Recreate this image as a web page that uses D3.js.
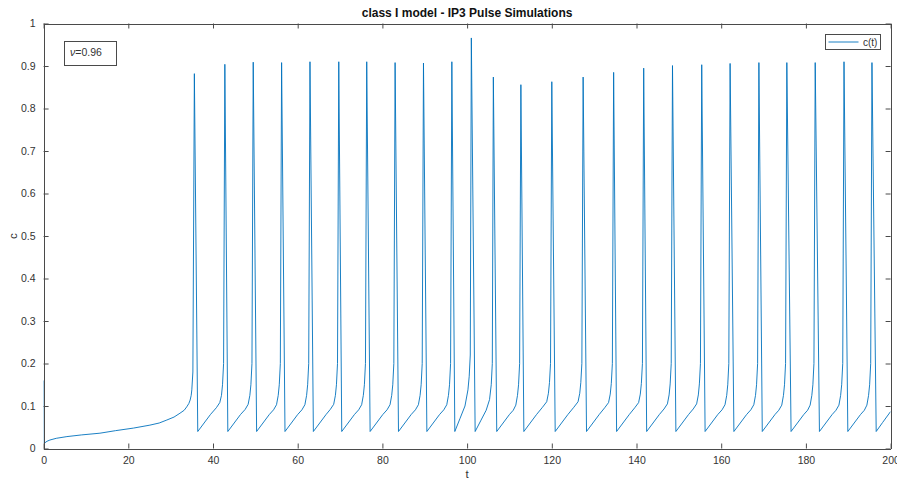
<!DOCTYPE html>
<html>
<head>
<meta charset="utf-8">
<script src="https://cdn.jsdelivr.net/npm/d3@7/dist/d3.min.js"></script>
<style>
  html, body { margin: 0; padding: 0; background: #fff; }
  svg { display: block; font-family: "Liberation Sans", Arial, Helvetica, sans-serif; }
</style>
</head>
<body>
<svg id="chart" width="897" height="482"></svg>
<script>
// Calcium trace c(t) for the class I model under an IP3 pulse.
// Slow onset before the first spike.
const onset = [
  [0, 0.16], [0.1, 0.012], [0.8, 0.017], [1.5, 0.02], [3, 0.024], [5.5, 0.028],
  [9, 0.032], [13.3, 0.036], [17, 0.042], [21.2, 0.048], [25.1, 0.055], [27.3, 0.06],
  [29.1, 0.067], [30.8, 0.074], [32.2, 0.083], [33.2, 0.09], [33.8, 0.098],
  [34.3, 0.106], [34.6, 0.114], [34.85, 0.125], [35.0, 0.138], [35.25, 0.18]
];

// One row per oscillation: peak, trough, then the slow recovery towards the next spike.
const cycles = [
  [[35.6, 0.882], [36.4, 0.04], [37.9, 0.06], [39.4, 0.08], [40.8, 0.096], [41.6, 0.108], [42.0, 0.125], [42.25, 0.15], [42.5, 0.2]],
  [[42.8, 0.904], [43.5, 0.04], [45.0, 0.06], [46.5, 0.08], [47.6, 0.092], [48.3, 0.104], [48.7, 0.125], [48.95, 0.15], [49.2, 0.2]],
  [[49.5, 0.909], [50.3, 0.04], [51.8, 0.06], [53.3, 0.08], [54.3, 0.091], [55.0, 0.103], [55.4, 0.125], [55.65, 0.15], [55.9, 0.2]],
  [[56.2, 0.908], [57.0, 0.04], [58.5, 0.06], [60.0, 0.08], [61.0, 0.091], [61.7, 0.103], [62.1, 0.125], [62.35, 0.15], [62.6, 0.2]],
  [[62.9, 0.910], [63.7, 0.04], [65.2, 0.06], [66.7, 0.08], [67.7, 0.092], [68.5, 0.104], [68.9, 0.125], [69.15, 0.15], [69.4, 0.2]],
  [[69.7, 0.910], [70.4, 0.04], [71.9, 0.06], [73.4, 0.08], [74.4, 0.091], [75.1, 0.103], [75.5, 0.125], [75.75, 0.15], [76.0, 0.2]],
  [[76.3, 0.910], [77.1, 0.04], [78.6, 0.06], [80.1, 0.08], [81.1, 0.091], [81.8, 0.103], [82.2, 0.125], [82.45, 0.15], [82.7, 0.2]],
  [[83.0, 0.908], [83.8, 0.04], [85.3, 0.06], [86.8, 0.08], [87.8, 0.091], [88.5, 0.103], [88.9, 0.125], [89.15, 0.15], [89.4, 0.2]],
  [[89.7, 0.907], [90.5, 0.04], [92.0, 0.06], [93.5, 0.08], [94.5, 0.091], [95.2, 0.103], [95.6, 0.125], [95.85, 0.15], [96.1, 0.2]],
  [[96.4, 0.910], [97.1, 0.04], [98.3, 0.07], [99.5, 0.1], [100.2, 0.138], [100.5, 0.17], [100.75, 0.22]],
  [[101.0, 0.966], [101.9, 0.04], [103.2, 0.065], [104.5, 0.09], [105.3, 0.115], [105.7, 0.15], [105.95, 0.2]],
  [[106.2, 0.874], [107.0, 0.04], [108.5, 0.06], [110.0, 0.08], [110.9, 0.09], [111.5, 0.102], [111.9, 0.125], [112.15, 0.15], [112.4, 0.2]],
  [[112.7, 0.856], [113.4, 0.04], [114.9, 0.06], [116.4, 0.08], [117.8, 0.097], [118.8, 0.11], [119.2, 0.13], [119.45, 0.155], [119.7, 0.2]],
  [[120.0, 0.863], [120.8, 0.04], [122.3, 0.06], [123.8, 0.08], [125.2, 0.097], [126.2, 0.11], [126.6, 0.13], [126.85, 0.155], [127.1, 0.2]],
  [[127.4, 0.874], [128.2, 0.04], [129.7, 0.06], [131.2, 0.08], [132.5, 0.096], [133.4, 0.108], [133.8, 0.128], [134.05, 0.153], [134.3, 0.2]],
  [[134.6, 0.885], [135.3, 0.04], [136.8, 0.06], [138.3, 0.08], [139.6, 0.096], [140.5, 0.108], [140.9, 0.128], [141.15, 0.153], [141.4, 0.2]],
  [[141.7, 0.895], [142.4, 0.04], [143.9, 0.06], [145.4, 0.08], [146.5, 0.093], [147.3, 0.105], [147.7, 0.126], [147.95, 0.152], [148.2, 0.2]],
  [[148.5, 0.901], [149.3, 0.04], [150.8, 0.06], [152.3, 0.08], [153.4, 0.093], [154.2, 0.105], [154.6, 0.126], [154.85, 0.152], [155.1, 0.2]],
  [[155.4, 0.903], [156.2, 0.04], [157.7, 0.06], [159.2, 0.08], [160.2, 0.091], [160.9, 0.103], [161.3, 0.125], [161.55, 0.15], [161.8, 0.2]],
  [[162.1, 0.906], [163.0, 0.04], [164.5, 0.06], [166.0, 0.08], [167.0, 0.091], [167.7, 0.103], [168.1, 0.125], [168.35, 0.15], [168.6, 0.2]],
  [[168.9, 0.908], [169.7, 0.04], [171.2, 0.06], [172.7, 0.08], [173.6, 0.09], [174.3, 0.102], [174.7, 0.125], [174.95, 0.15], [175.2, 0.2]],
  [[175.5, 0.908], [176.5, 0.04], [178.0, 0.06], [179.5, 0.08], [180.4, 0.09], [181.0, 0.102], [181.4, 0.125], [181.65, 0.15], [181.9, 0.2]],
  [[182.2, 0.908], [183.2, 0.04], [184.7, 0.06], [186.2, 0.08], [187.1, 0.09], [187.8, 0.102], [188.2, 0.125], [188.45, 0.15], [188.7, 0.2]],
  [[189.0, 0.910], [189.9, 0.04], [191.4, 0.06], [192.9, 0.08], [193.8, 0.09], [194.4, 0.102], [194.8, 0.125], [195.05, 0.15], [195.3, 0.2]],
  [[195.6, 0.908], [196.6, 0.04], [198.1, 0.061], [200.0, 0.087]]
];

const xTicks = [0, 20, 40, 60, 80, 100, 120, 140, 160, 180, 200];
const yTicks = [0, 0.1, 0.2, 0.3, 0.4, 0.5, 0.6, 0.7, 0.8, 0.9, 1];
const yTickLabels = ["0", "0.1", "0.2", "0.3", "0.4", "0.5", "0.6", "0.7", "0.8", "0.9", "1"];

const titleText = "class I model - IP3 Pulse Simulations";
const xLabel = "t";
const yLabel = "c";
const seriesName = "c(t)";
const paramValue = "0.96";

const trace = onset.concat(...cycles);

const svg = d3.select("#chart");
const W = 897, H = 482;
const margin = { left: 43.6, right: W - 890.6, top: 23.5, bottom: H - 448.5 };
const plotW = W - margin.left - margin.right;
const plotH = H - margin.top - margin.bottom;

const x = d3.scaleLinear().domain([0, 200]).range([margin.left, margin.left + plotW]);
const y = d3.scaleLinear().domain([0, 1]).range([margin.top + plotH, margin.top]);

const axisColor = "#4a4a4a";
const textColor = "#333";
const lineColor = "#0072BD";

svg.append("defs").append("clipPath").attr("id", "plotclip")
  .append("rect")
  .attr("x", margin.left).attr("y", margin.top)
  .attr("width", plotW).attr("height", plotH);

// the trace, drawn as straight segments between samples
const line = d3.line()
  .x(d => x(d[0]))
  .y(d => y(d[1]))
  .curve(d3.curveLinear);

svg.append("path")
  .datum(trace)
  .attr("clip-path", "url(#plotclip)")
  .attr("fill", "none")
  .attr("stroke", lineColor)
  .attr("stroke-width", 0.9)
  .attr("stroke-linejoin", "round")
  .attr("d", line);

// axes with inward ticks on all four sides
function styleAxis(g) {
  g.selectAll(".domain").attr("stroke", axisColor);
  g.selectAll(".tick line").attr("stroke", axisColor);
  g.selectAll(".tick text").attr("fill", textColor).attr("font-size", "10.5px");
}

svg.append("g")
  .attr("transform", `translate(0,${margin.top + plotH})`)
  .call(d3.axisBottom(x).tickValues(xTicks).tickFormat(d3.format("d"))
    .tickSizeInner(-5).tickSizeOuter(0).tickPadding(8))
  .call(styleAxis);

svg.append("g")
  .attr("transform", `translate(0,${margin.top})`)
  .call(d3.axisTop(x).tickValues(xTicks).tickFormat("")
    .tickSizeInner(-5).tickSizeOuter(0))
  .call(styleAxis);

svg.append("g")
  .attr("transform", `translate(${margin.left},0)`)
  .call(d3.axisLeft(y).tickValues(yTicks).tickFormat((d, i) => yTickLabels[i])
    .tickSizeInner(-5).tickSizeOuter(0).tickPadding(8))
  .call(styleAxis);

svg.append("g")
  .attr("transform", `translate(${margin.left + plotW},0)`)
  .call(d3.axisRight(y).tickValues(yTicks).tickFormat("")
    .tickSizeInner(-5).tickSizeOuter(0))
  .call(styleAxis);

svg.selectAll(".domain").attr("shape-rendering", "crispEdges");

// title and axis labels
svg.append("text")
  .attr("x", margin.left + plotW / 2).attr("y", 16.5)
  .attr("text-anchor", "middle")
  .attr("font-size", "12px").attr("font-weight", "bold")
  .attr("fill", "#111")
  .text(titleText);

svg.append("text")
  .attr("x", margin.left + plotW / 2).attr("y", 478)
  .attr("text-anchor", "middle")
  .attr("font-size", "11.5px").attr("fill", textColor)
  .text(xLabel);

svg.append("text")
  .attr("transform", `translate(16.5,${margin.top + plotH / 2}) rotate(-90)`)
  .attr("text-anchor", "middle")
  .attr("font-size", "11.5px").attr("fill", textColor)
  .text(yLabel);

// parameter annotation box
svg.append("rect")
  .attr("x", 64.5).attr("y", 41.5).attr("width", 52).attr("height", 24)
  .attr("fill", "#fff").attr("stroke", axisColor).attr("stroke-width", 1);

const ann = svg.append("text")
  .attr("x", 70).attr("y", 56)
  .attr("font-size", "10.5px").attr("fill", textColor);
ann.append("tspan").attr("font-style", "italic").text("ν");
ann.append("tspan").text("=" + paramValue);

// legend
const lg = svg.append("g");
lg.append("rect")
  .attr("x", 825.5).attr("y", 34.5).attr("width", 55).attr("height", 15)
  .attr("fill", "#fff").attr("stroke", axisColor).attr("stroke-width", 1);
lg.append("line")
  .attr("x1", 828.5).attr("x2", 858.5).attr("y1", 42).attr("y2", 42)
  .attr("stroke", lineColor).attr("stroke-width", 0.9);
lg.append("text")
  .attr("x", 863).attr("y", 45.8)
  .attr("font-size", "10px").attr("fill", textColor)
  .text(seriesName);
</script>
</body>
</html>
